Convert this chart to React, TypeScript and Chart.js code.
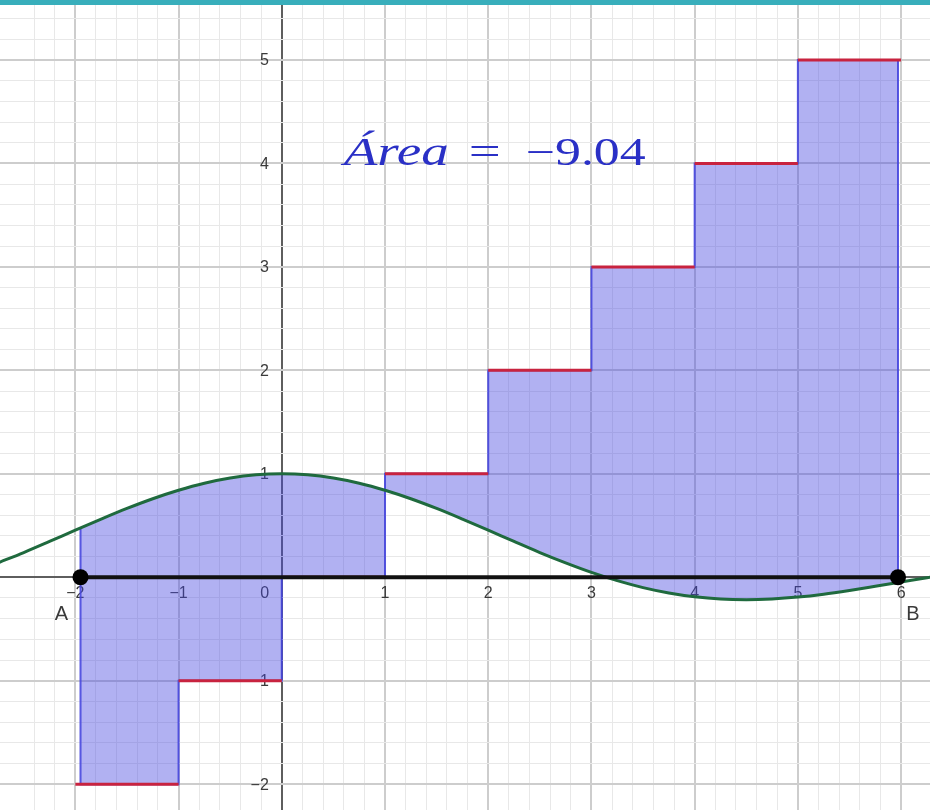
import React, { useEffect, useRef } from "react";
import { Chart, registerables } from "chart.js";

Chart.register(...registerables);

// ---- data ----
const stepEdges = [-2, -1, 0, 1, 2, 3, 4, 5, 6];
const stepValues = [-2, -1, 0, 1, 2, 3, 4, 5];

const pointA = { x: -1.95, y: 0 };
const pointB = { x: 5.97, y: 0 };
const curveAtA = 0.476;
const curveAtB = -0.052;

const curveX = [
  -2.75, -2.5, -2.25, -2, -1.75, -1.5, -1.25, -1, -0.75, -0.5, -0.25, 0, 0.25,
  0.5, 0.75, 1, 1.25, 1.5, 1.75, 2, 2.25, 2.5, 2.75, 3, 3.25, 3.5, 3.75, 4,
  4.25, 4.5, 4.75, 5, 5.25, 5.5, 5.75, 6, 6.25, 6.5,
];
const curveY = [
  0.139, 0.239, 0.346, 0.455, 0.562, 0.665, 0.759, 0.841, 0.909, 0.959, 0.99,
  1, 0.99, 0.959, 0.909, 0.841, 0.759, 0.665, 0.562, 0.455, 0.346, 0.239,
  0.139, 0.047, -0.033, -0.1, -0.152, -0.189, -0.211, -0.217, -0.21, -0.192,
  -0.164, -0.128, -0.088, -0.047, -0.005, 0.033,
];

const xTickValues = [-2, -1, 0, 1, 2, 3, 4, 5, 6];
const xTickLabels = ["−2", "−1", "0", "1", "2", "3", "4", "5", "6"];
const yTickValues = [5, 4, 3, 2, 1, -1, -2];
const yTickLabels = ["5", "4", "3", "2", "1", "−1", "−2"];

const areaWord = "Área";
const areaEq = "=";
const areaValue = "−9.04";

// ---- derived datasets ----
const curveData = curveX.map((x, i) => ({ x, y: curveY[i] }));

const redSteps: any[] = [];
stepValues.forEach((v, i) => {
  redSteps.push({ x: stepEdges[i], y: v });
  redSteps.push({ x: stepEdges[i + 1], y: v });
  if (i < stepValues.length - 1) redSteps.push({ x: stepEdges[i + 1], y: null });
});

const fillData: any[] = [
  { x: pointA.x, y: curveAtA },
  { x: pointA.x, y: stepValues[0] },
];
for (let i = 1; i < stepValues.length; i++) {
  fillData.push({ x: stepEdges[i], y: stepValues[i] });
}
fillData.push({ x: pointB.x, y: stepValues[stepValues.length - 1] });
fillData.push({ x: pointB.x, y: curveAtB });

const near = (a: number, b: number) => Math.abs(a - b) < 1e-6;

const gridColor = (ctx: any) => {
  const v = ctx.tick ? ctx.tick.value : undefined;
  if (v === undefined) return "rgba(0,0,0,0)";
  if (near(v, 0)) return "#5e5e5e";
  if (near(v, Math.round(v))) return "#cdcdcd";
  if (near(v * 5, Math.round(v * 5))) return "#e8e8e8";
  return "rgba(0,0,0,0)";
};
const gridWidth = (ctx: any) => {
  const v = ctx.tick ? ctx.tick.value : undefined;
  if (v === undefined) return 0;
  if (near(v, Math.round(v))) return 2;
  return 1;
};

const tickLabelPlugin = {
  id: "geoTickLabels",
  beforeDatasetsDraw(chart: any) {
    const { ctx, scales } = chart;
    const xs = scales.x;
    const ys = scales.y;
    const x0 = xs.getPixelForValue(0);
    const y0 = ys.getPixelForValue(0);
    ctx.save();
    ctx.fillStyle = "#3a3a3a";
    ctx.font = '16px "Liberation Sans", Arial, sans-serif';
    ctx.textAlign = "center";
    ctx.textBaseline = "top";
    xTickValues.forEach((v, i) => {
      let px = xs.getPixelForValue(v);
      if (v === 0) px -= 17;
      ctx.fillText(xTickLabels[i], px, y0 + 8);
    });
    ctx.textAlign = "right";
    ctx.textBaseline = "middle";
    yTickValues.forEach((v, i) => {
      ctx.fillText(yTickLabels[i], x0 - 13, ys.getPixelForValue(v) + 1);
    });
    ctx.restore();
  },
  afterDraw(chart: any) {
    const { ctx, scales } = chart;
    const xs = scales.x;
    const ys = scales.y;
    ctx.save();
    // point names
    ctx.fillStyle = "#3a3a3a";
    ctx.font = '20px "Liberation Sans", Arial, sans-serif';
    ctx.textAlign = "center";
    ctx.textBaseline = "middle";
    ctx.fillText("A", xs.getPixelForValue(pointA.x) - 19, ys.getPixelForValue(0) + 37);
    ctx.fillText("B", xs.getPixelForValue(pointB.x) + 15, ys.getPixelForValue(0) + 37);

    // area text
    const left = xs.getPixelForValue(0.6);
    const base = ys.getPixelForValue(3.985);
    ctx.fillStyle = "#2a30c6";
    ctx.textAlign = "left";
    ctx.textBaseline = "alphabetic";
    const drawFit = (text: string, font: string, x: number, w: number) => {
      ctx.font = font;
      const m = ctx.measureText(text).width;
      ctx.save();
      ctx.translate(x, base);
      ctx.scale(w / m, 1);
      ctx.fillText(text, 0, 0);
      ctx.restore();
    };
    drawFit(areaWord, 'italic 39px "Liberation Serif", serif', left, 105);
    drawFit(areaEq, '39px "Liberation Serif", serif', left + 125, 32);
    drawFit(areaValue, '39px "Liberation Serif", serif', left + 182, 120);
    ctx.restore();
  },
};

export default function App() {
  const ref = useRef<HTMLCanvasElement>(null);

  useEffect(() => {
    document.body.style.margin = "0";
    const canvas = ref.current;
    if (!canvas) return;
    const chart = new Chart(canvas, {
      type: "line",
      data: {
        datasets: [
          {
            label: "points",
            data: [pointA, pointB],
            showLine: false,
            pointRadius: 8,
            pointBackgroundColor: "#000",
            pointBorderColor: "#000",
            pointBorderWidth: 0,
            order: 0,
          } as any,
          {
            label: "segment",
            data: [pointA, pointB],
            borderColor: "#111",
            borderWidth: 4,
            pointRadius: 0,
            order: 1,
          },
          {
            label: "curve",
            data: curveData,
            borderColor: "#1f6a3e",
            borderWidth: 3,
            pointRadius: 0,
            cubicInterpolationMode: "monotone",
            order: 2,
          },
          {
            label: "steps",
            data: redSteps,
            borderColor: "#c8233f",
            borderWidth: 3,
            pointRadius: 0,
            spanGaps: false,
            order: 3,
          },
          {
            label: "region",
            data: fillData,
            stepped: "before",
            borderColor: "rgba(70,70,222,0.9)",
            borderWidth: 2,
            backgroundColor: "rgba(70,70,225,0.42)",
            fill: 2,
            pointRadius: 0,
            order: 4,
          } as any,
        ],
      },
      options: {
        responsive: false,
        devicePixelRatio: 1,
        animation: false,
        events: [],
        layout: { padding: 0, autoPadding: false },
        plugins: {
          legend: { display: false },
          tooltip: { enabled: false },
        },
        scales: {
          x: {
            type: "linear",
            min: -2.73,
            max: 6.28,
            ticks: { display: false, stepSize: 0.2 },
            grid: { drawTicks: false, color: gridColor, lineWidth: gridWidth },
            border: { display: false },
            afterFit: (s: any) => {
              s.height = 0;
            },
          },
          y: {
            type: "linear",
            min: -2.25,
            max: 5.58,
            ticks: { display: false, stepSize: 0.2 },
            grid: { drawTicks: false, color: gridColor, lineWidth: gridWidth },
            border: { display: false },
            afterFit: (s: any) => {
              s.width = 0;
            },
          },
        },
      } as any,
      plugins: [tickLabelPlugin],
    });
    return () => chart.destroy();
  }, []);

  return (
    <div style={{ position: "relative", width: 930, height: 810, background: "#fff" }}>
      <canvas
        ref={ref}
        width={930}
        height={810}
        style={{ display: "block", width: 930, height: 810 }}
      />
      <div
        style={{
          position: "absolute",
          left: 0,
          top: 0,
          width: 930,
          height: 5,
          background: "#38aebb",
        }}
      />
    </div>
  );
}
